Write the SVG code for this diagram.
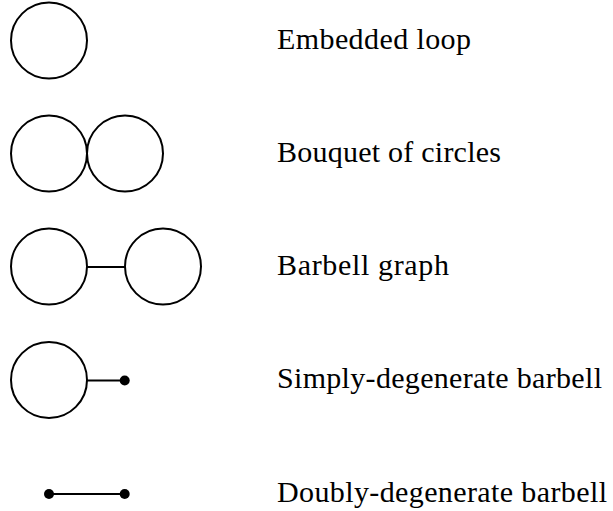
<svg xmlns="http://www.w3.org/2000/svg" width="613" height="511" viewBox="0 0 613 511">
<style>
.c{fill:none;stroke:#000;stroke-width:2}
.e{stroke:#000;stroke-width:2}
.d{fill:#000}
.t{font-family:"Liberation Serif","DejaVu Serif",serif;font-size:30px;fill:#000}
</style>
<rect width="613" height="511" fill="#fff"/>
<g id="connectors">
<line class="e" x1="87" y1="267" x2="125" y2="267"/>
<line class="e" x1="87" y1="380.5" x2="124.7" y2="380.5"/>
<line class="e" x1="49" y1="494" x2="124.7" y2="494"/>
</g>
<g id="embedded-loop">
<circle class="c" cx="49" cy="40.5" r="38"/>
</g>
<g id="bouquet">
<circle class="c" cx="49" cy="153.5" r="38"/>
<circle class="c" cx="125" cy="153.5" r="38"/>
</g>
<g id="barbell">
<circle class="c" cx="49" cy="266.5" r="38"/>
<circle class="c" cx="163" cy="266.5" r="38"/>
</g>
<g id="simply-degenerate">
<circle class="c" cx="49" cy="380" r="38"/>
<circle class="d" cx="124.7" cy="380.5" r="5"/>
</g>
<g id="doubly-degenerate">
<circle class="d" cx="49" cy="494" r="5"/>
<circle class="d" cx="124.7" cy="494" r="5"/>
</g>
<g id="labels">
<text class="t" x="277" y="49.3" textLength="194" lengthAdjust="spacing">Embedded loop</text>
<text class="t" x="277" y="162" textLength="224" lengthAdjust="spacing">Bouquet of circles</text>
<text class="t" x="277" y="274.5" textLength="172" lengthAdjust="spacing">Barbell graph</text>
<text class="t" x="277" y="388.3" textLength="325" lengthAdjust="spacing">Simply-degenerate barbell</text>
<text class="t" x="277" y="501.7" textLength="330" lengthAdjust="spacing">Doubly-degenerate barbell</text>
</g>
</svg>
